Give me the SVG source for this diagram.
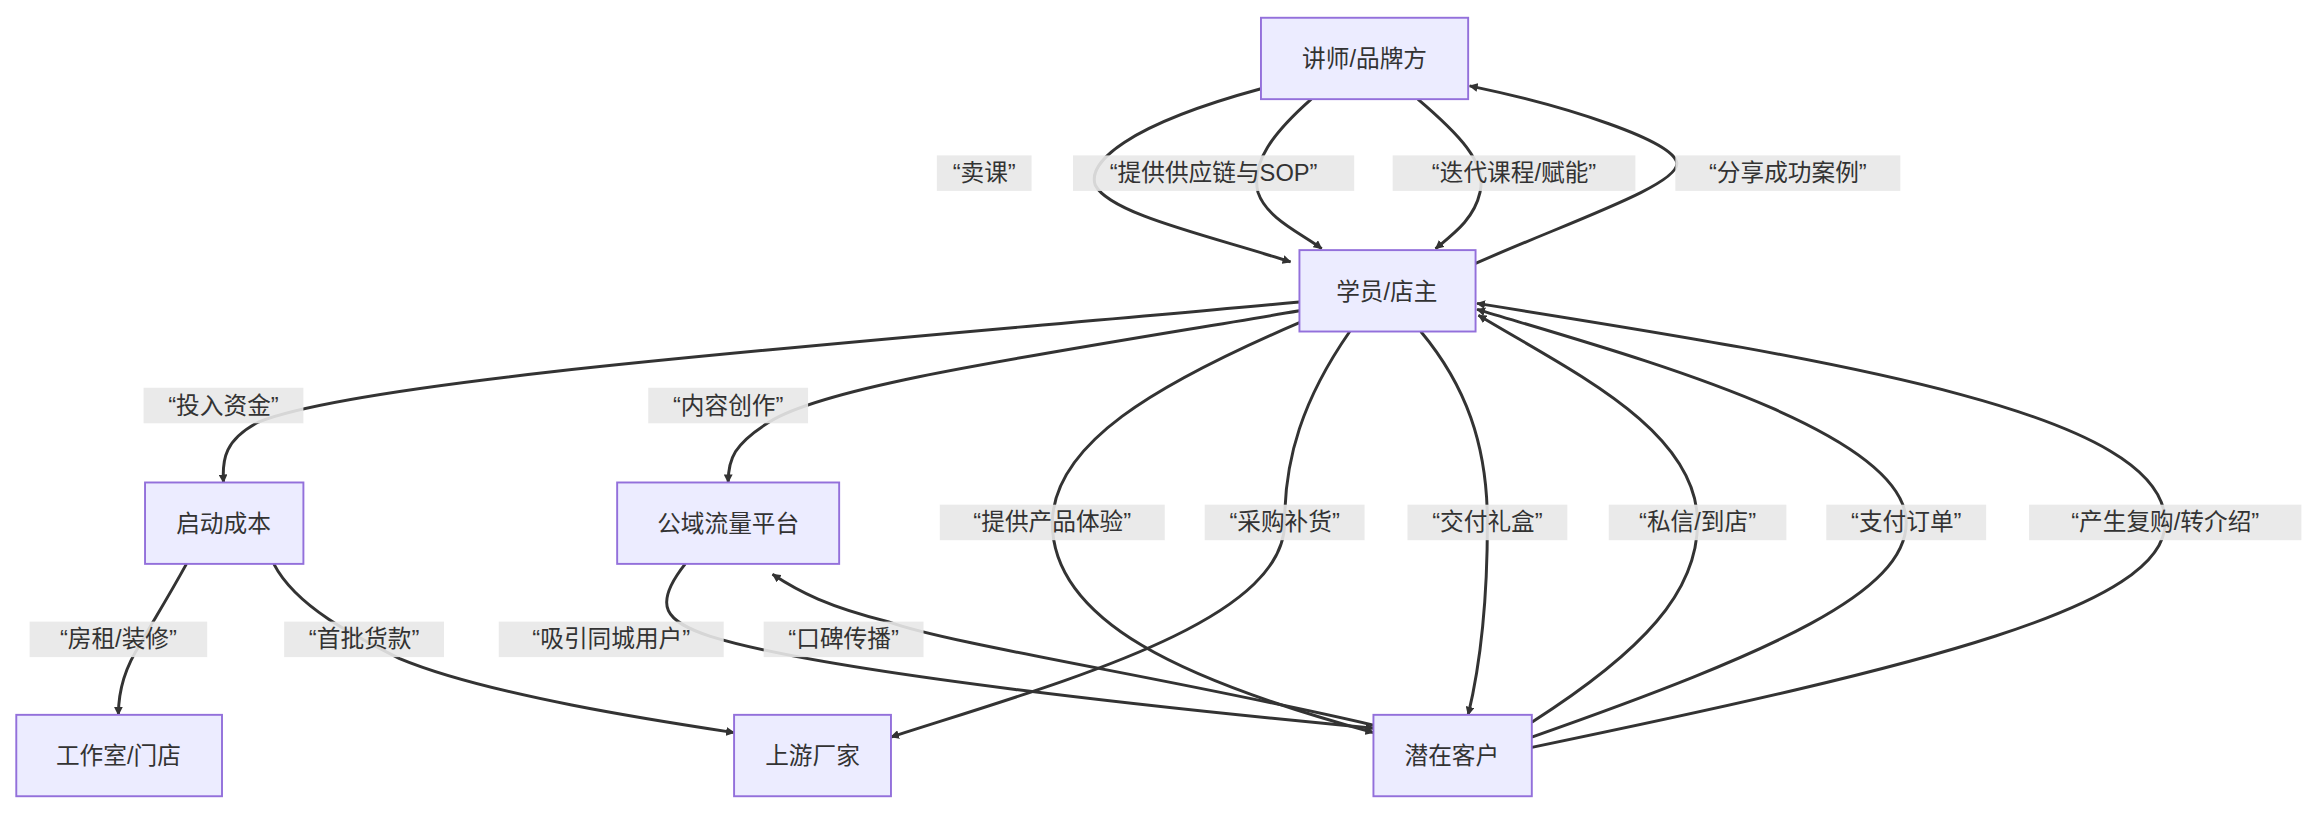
<svg xmlns="http://www.w3.org/2000/svg" width="2320" height="814" viewBox="0 0 2320 814">
<style>
.n rect{fill:#ECECFF;stroke:#9370DB;stroke-width:1.3}
text{font-family:"Liberation Sans","Noto Sans CJK SC",sans-serif;font-size:16px;fill:#333;text-anchor:middle;dominant-baseline:central}
.e path{fill:none;stroke:#333;stroke-width:2;marker-end:url(#a)}
.l rect{fill:#e8e8e8;opacity:0.9}
</style>
<defs><marker id="a" viewBox="0 0 10 10" refX="9" refY="5" markerWidth="6" markerHeight="6" orient="auto" markerUnits="userSpaceOnUse"><path d="M0,0L10,5L0,10z" fill="#333" stroke="none" transform="scale(1)"/></marker></defs>
<rect width="2320" height="814" fill="#fff"/>
<g transform="scale(1.48)">
<defs/>
<g id="connectors" class="e">
<path d="M852,60 C760,85 735,110 740,125 C750,145 820,160 872,177" marker-end="url(#a)" style="marker-end:url(#a)"/>
<path d="M886,67 C860,90 845,110 850,130 C856,148 880,158 893,168"/>
<path d="M958,67 C985,90 1005,110 1000,130 C996,148 982,158 970,168"/>
<path d="M997,178 C1060,150 1135,125 1133,110 C1130,95 1060,72 993,58"/>
<path d="M878,204 C600,230 250,255 175,285 C152,297 150,310 151,326"/>
<path d="M878,210 C700,240 560,260 520,285 C496,300 492,310 492,326"/>
<path d="M878,218 C780,260 712,300 711,353 C711,420 800,460 928,495"/>
<path d="M912,224 C880,270 868,310 868,353 C868,420 720,460 602,498"/>
<path d="M960,224 C990,260 1005,300 1005,353 C1005,410 1000,450 992,483"/>
<path d="M1035,488 C1110,440 1147,400 1147,353 C1147,290 1060,250 999,213"/>
<path d="M1035,498 C1200,440 1288,400 1288,353 C1288,290 1100,240 998,209"/>
<path d="M1035,505 C1300,450 1463,410 1463,353 C1463,280 1250,245 998,205"/>
<path d="M126,381 C110,410 100,425 95,435 C85,450 80,465 80,483"/>
<path d="M185,381 C200,410 240,430 270,445 C330,470 450,488 496,495"/>
<path d="M463,381 C440,410 450,420 480,430 C560,455 800,480 928,492"/>
<path d="M928,490 C800,460 640,435 600,420 C560,410 540,400 522,388"/>
</g>
<g class="l">
<rect x="633" y="105" width="64" height="24"/><text x="665" y="117">“卖课”</text>
<rect x="725" y="105" width="190" height="24"/><text x="820" y="117">“提供供应链与SOP”</text>
<rect x="941" y="105" width="164" height="24"/><text x="1023" y="117">“迭代课程/赋能”</text>
<rect x="1132" y="105" width="152" height="24"/><text x="1208" y="117">“分享成功案例”</text>
<rect x="97" y="262" width="108" height="24"/><text x="151" y="274">“投入资金”</text>
<rect x="438" y="262" width="108" height="24"/><text x="492" y="274">“内容创作”</text>
<rect x="635" y="341" width="152" height="24"/><text x="711" y="353">“提供产品体验”</text>
<rect x="814" y="341" width="108" height="24"/><text x="868" y="353">“采购补货”</text>
<rect x="951" y="341" width="108" height="24"/><text x="1005" y="353">“交付礼盒”</text>
<rect x="1087" y="341" width="120" height="24"/><text x="1147" y="353">“私信/到店”</text>
<rect x="1234" y="341" width="108" height="24"/><text x="1288" y="353">“支付订单”</text>
<rect x="1371" y="341" width="184" height="24"/><text x="1463" y="353">“产生复购/转介绍”</text>
<rect x="20" y="420" width="120" height="24"/><text x="80" y="432">“房租/装修”</text>
<rect x="192" y="420" width="108" height="24"/><text x="246" y="432">“首批货款”</text>
<rect x="337" y="420" width="152" height="24"/><text x="413" y="432">“吸引同城用户”</text>
<rect x="516" y="420" width="108" height="24"/><text x="570" y="432">“口碑传播”</text>
</g>
<g id="n1" class="n"><rect x="852" y="12" width="140" height="55"/><text x="922" y="40">讲师/品牌方</text></g>
<g id="n2" class="n"><rect x="878" y="169" width="119" height="55"/><text x="937" y="197">学员/店主</text></g>
<g id="n3" class="n"><rect x="98" y="326" width="107" height="55"/><text x="151" y="354">启动成本</text></g>
<g id="n4" class="n"><rect x="417" y="326" width="150" height="55"/><text x="492" y="354">公域流量平台</text></g>
<g id="n5" class="n"><rect x="11" y="483" width="139" height="55"/><text x="80" y="511">工作室/门店</text></g>
<g id="n6" class="n"><rect x="496" y="483" width="106" height="55"/><text x="549" y="511">上游厂家</text></g>
<g id="n7" class="n"><rect x="928" y="483" width="107" height="55"/><text x="981" y="511">潜在客户</text></g>
</g>
</svg>
